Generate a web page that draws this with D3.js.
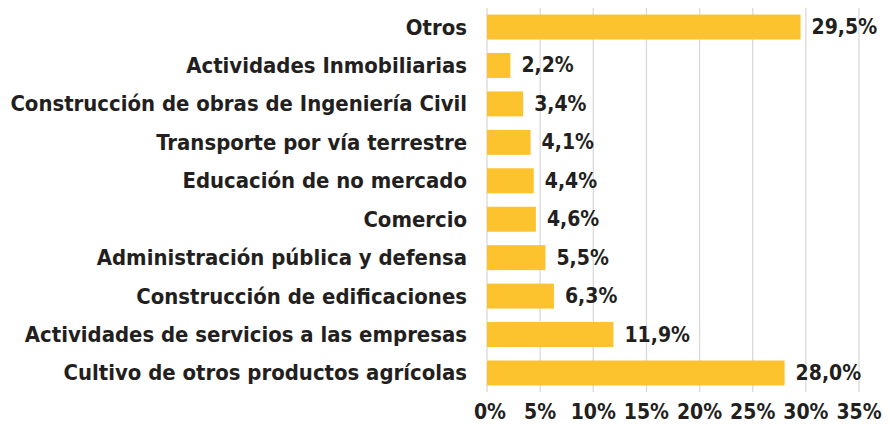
<!DOCTYPE html>
<html><head><meta charset="utf-8">
<script src="https://cdn.jsdelivr.net/npm/d3@7"></script>
<style>
html,body{margin:0;padding:0;background:#fff;}
text{font-family:"DejaVu Sans Condensed","DejaVu Sans",sans-serif;font-stretch:condensed;font-weight:700;fill:#231F20;}
</style></head>
<body><svg id="c" width="890" height="424"></svg>
<script>
const categories = ["Otros","Actividades Inmobiliarias","Construcción de obras de Ingeniería Civil","Transporte por vía terrestre","Educación de no mercado","Comercio","Administración pública y defensa","Construcción de edificaciones","Actividades de servicios a las empresas","Cultivo de otros productos agrícolas"];
const values = [29.5,2.2,3.4,4.1,4.4,4.6,5.5,6.3,11.9,28.0];
const valueLabels = ["29,5%","2,2%","3,4%","4,1%","4,4%","4,6%","5,5%","6,3%","11,9%","28,0%"];
const tickValues = [0,5,10,15,20,25,30,35];
const tickLabels = ["0%","5%","10%","15%","20%","25%","30%","35%"];

const svg = d3.select("#c");
const x = d3.scaleLinear().domain([0,35]).range([487,859]);
const y = d3.scaleBand().domain(categories).range([8,392]).paddingInner(0.35).paddingOuter(0.17);

// gridlines
svg.append("g").selectAll("line").data(tickValues).join("line")
  .attr("x1",d=>x(d)).attr("x2",d=>x(d)).attr("y1",8).attr("y2",392)
  .attr("stroke","#D9D9D9").attr("stroke-width",1.3);

// bars
svg.append("g").selectAll("rect").data(values).join("rect")
  .attr("x",x(0)).attr("y",(d,i)=>y(categories[i]))
  .attr("width",d=>x(d)-x(0)).attr("height",y.bandwidth())
  .attr("fill","#FDC32E");

// fit font size so the longest label spans the reference width
const probe = svg.append("text").attr("font-size",20).text(categories[2]);
const w = probe.node().getComputedTextLength();
probe.remove();
const fs = Math.min(23, 20 * 457 / w);
const numFs = 21;

function addText(g, tx, ty, str, anchor, size){
  g.append("text").attr("x",tx).attr("y",ty)
   .attr("text-anchor",anchor).attr("dominant-baseline","central")
   .attr("font-size",size||fs).text(str);
}
const gl = svg.append("g");
categories.forEach((c,i)=>addText(gl, 467, y(c)+y.bandwidth()/2, c, "end"));
const gv = svg.append("g");
values.forEach((v,i)=>addText(gv, x(v)+11, y(categories[i])+y.bandwidth()/2, valueLabels[i], "start", numFs));
const gt = svg.append("g");
tickValues.forEach((t,i)=>addText(gt, x(t)+(i===0?3:0), 412, tickLabels[i], "middle", numFs));
</script></body></html>
